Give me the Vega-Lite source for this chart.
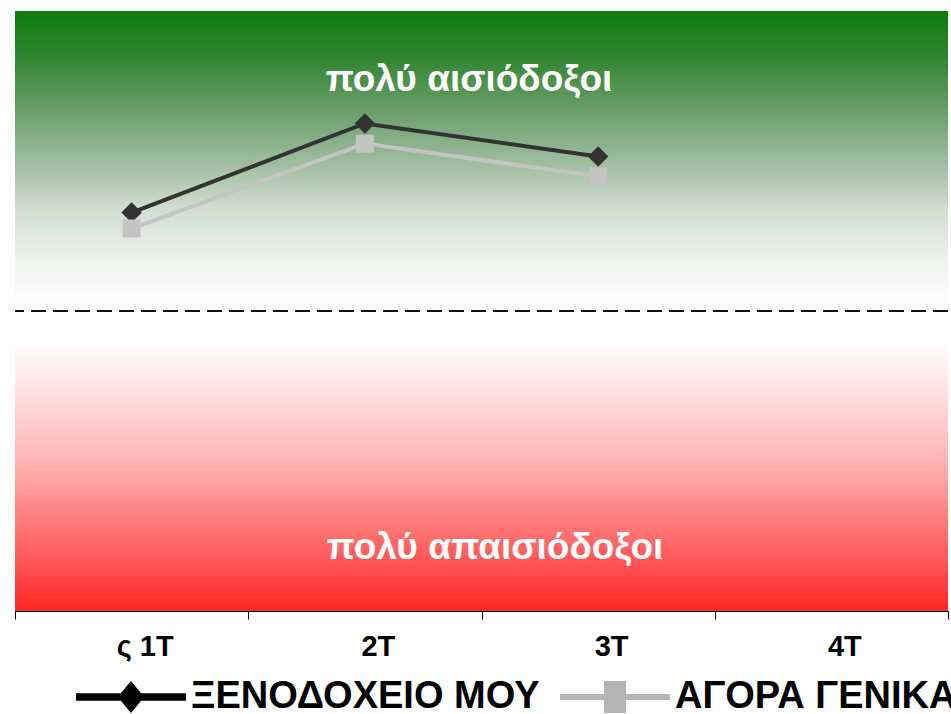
{
  "$schema": "https://vega.github.io/schema/vega-lite/v6.json",
  "width": 933,
  "height": 600,
  "autosize": {"type": "none"},
  "padding": {"left": 15, "top": 11, "right": 3, "bottom": 103},
  "background": "white",
  "config": {"view": {"stroke": null}, "font": "Liberation Sans"},
  "datasets": {
    "series": [
      {"q": "1T", "series": "ΞΕΝΟΔΟΧΕΙΟ ΜΟΥ", "value": 32.8},
      {"q": "2T", "series": "ΞΕΝΟΔΟΧΕΙΟ ΜΟΥ", "value": 62.5},
      {"q": "3T", "series": "ΞΕΝΟΔΟΧΕΙΟ ΜΟΥ", "value": 51.5},
      {"q": "1T", "series": "ΑΓΟΡΑ ΓΕΝΙΚΑ", "value": 27.5},
      {"q": "2T", "series": "ΑΓΟΡΑ ΓΕΝΙΚΑ", "value": 55.8},
      {"q": "3T", "series": "ΑΓΟΡΑ ΓΕΝΙΚΑ", "value": 44.8}
    ],
    "bg": [{"top": 100, "bottom": -100}],
    "zero": [{"v": 0}],
    "notesTop": [{"q": "2T", "v": 73.3, "text": "πολύ αισιόδοξοι"}],
    "notesBottom": [{"q": "2T", "v": -82.7, "text": "πολύ απαισιόδοξοι"}]
  },
  "layer": [
    {
      "data": {"name": "bg"},
      "mark": {
        "type": "rect",
        "color": {
          "gradient": "linear",
          "x1": 0, "y1": 0, "x2": 0, "y2": 1,
          "stops": [
            {"offset": 0, "color": "#0e7c0e"},
            {"offset": 0.08, "color": "#338633"},
            {"offset": 0.165, "color": "#6a9e6a"},
            {"offset": 0.25, "color": "#9dbb9d"},
            {"offset": 0.33, "color": "#d2ddd2"},
            {"offset": 0.415, "color": "#eef1ee"},
            {"offset": 0.5, "color": "#ffffff"},
            {"offset": 0.55, "color": "#ffffff"},
            {"offset": 0.75, "color": "#ffb4b4"},
            {"offset": 0.865, "color": "#ff7373"},
            {"offset": 1, "color": "#ff2626"}
          ]
        }
      },
      "encoding": {
        "y": {
          "field": "top",
          "type": "quantitative",
          "scale": {"domain": [-100, 100]},
          "axis": {
            "title": null,
            "values": [0],
            "labels": false,
            "grid": false,
            "tickSize": -8,
            "tickColor": "#808080",
            "domainColor": "black"
          }
        },
        "y2": {"field": "bottom"}
      }
    },
    {
      "data": {"name": "zero"},
      "mark": {"type": "rule", "color": "#111111", "strokeWidth": 2, "strokeDash": [15, 7]},
      "encoding": {"y": {"field": "v", "type": "quantitative"}}
    },
    {
      "data": {"name": "series"},
      "mark": {"type": "line", "strokeWidth": 4},
      "encoding": {
        "x": {
          "field": "q",
          "type": "nominal",
          "scale": {"type": "band", "domain": ["1T", "2T", "3T", "4T"], "paddingInner": 0, "paddingOuter": 0},
          "axis": {
            "title": null,
            "labelAngle": 0,
            "tickBand": "extent",
            "tickSize": 8,
            "tickColor": "black",
            "domainColor": "black",
            "labelFont": "Liberation Sans",
            "labelFontWeight": "bold",
            "labelFontSize": 29,
            "labelColor": "black",
            "labelPadding": 13,
            "labelOffset": 13,
            "labelExpr": "datum.label == '1T' ? 'ς   1T' : datum.label"
          }
        },
        "y": {"field": "value", "type": "quantitative"},
        "color": {
          "field": "series",
          "type": "nominal",
          "scale": {"domain": ["ΞΕΝΟΔΟΧΕΙΟ ΜΟΥ", "ΑΓΟΡΑ ΓΕΝΙΚΑ"], "range": ["#333333", "#c4c4c4"]},
          "legend": {
            "orient": "none",
            "legendX": 61,
            "legendY": 631,
            "direction": "horizontal",
            "title": null,
            "padding": 0,
            "symbolSize": 12100,
            "symbolStrokeWidth": 0,
            "labelFont": "Liberation Sans",
            "labelFontWeight": "bold",
            "labelFontSize": 38,
            "labelColor": "black",
            "labelOffset": 5,
            "labelBaseline": "middle",
            "labelLimit": 0,
            "columnPadding": 20,
            "encode": {
              "symbols": {
                "update": {
                  "shape": {"signal": "datum.value == 'ΞΕΝΟΔΟΧΕΙΟ ΜΟΥ' ? 'M-1,-0.07H1V0.07H-1Z M0,-0.29L0.24,0L0,0.29L-0.24,0Z' : 'M-1,-0.055H1V0.055H-1Z M-0.2,-0.29H0.2V0.29H-0.2Z'"},
                  "fill": {"signal": "datum.value == 'ΞΕΝΟΔΟΧΕΙΟ ΜΟΥ' ? '#000000' : '#b4b4b4'"},
                  "stroke": {"value": "transparent"},
                  "strokeWidth": {"value": 0},
                  "opacity": {"value": 1},
                  "fillOpacity": {"value": 1}
                }
              }
            }
          }
        }
      }
    },
    {
      "data": {"name": "series"},
      "transform": [{"filter": "datum.series == 'ΞΕΝΟΔΟΧΕΙΟ ΜΟΥ'"}],
      "mark": {"type": "point", "filled": true, "opacity": 1, "shape": "diamond", "size": 420, "color": "#333333"},
      "encoding": {
        "x": {"field": "q", "type": "nominal"},
        "y": {"field": "value", "type": "quantitative"}
      }
    },
    {
      "data": {"name": "series"},
      "transform": [{"filter": "datum.series == 'ΑΓΟΡΑ ΓΕΝΙΚΑ'"}],
      "mark": {"type": "point", "filled": true, "opacity": 1, "shape": "square", "size": 324, "color": "#c4c4c4"},
      "encoding": {
        "x": {"field": "q", "type": "nominal"},
        "y": {"field": "value", "type": "quantitative"}
      }
    },
    {
      "data": {"name": "notesTop"},
      "mark": {"type": "text", "color": "white", "fontWeight": "bold", "fontSize": 37, "font": "Liberation Sans", "baseline": "alphabetic", "align": "center", "dx": 104},
      "encoding": {
        "x": {"field": "q", "type": "nominal"},
        "y": {"field": "v", "type": "quantitative"},
        "text": {"field": "text"}
      }
    },
    {
      "data": {"name": "notesBottom"},
      "mark": {"type": "text", "color": "white", "fontWeight": "bold", "fontSize": 37, "font": "Liberation Sans", "baseline": "alphabetic", "align": "center", "dx": 130},
      "encoding": {
        "x": {"field": "q", "type": "nominal"},
        "y": {"field": "v", "type": "quantitative"},
        "text": {"field": "text"}
      }
    }
  ]
}
